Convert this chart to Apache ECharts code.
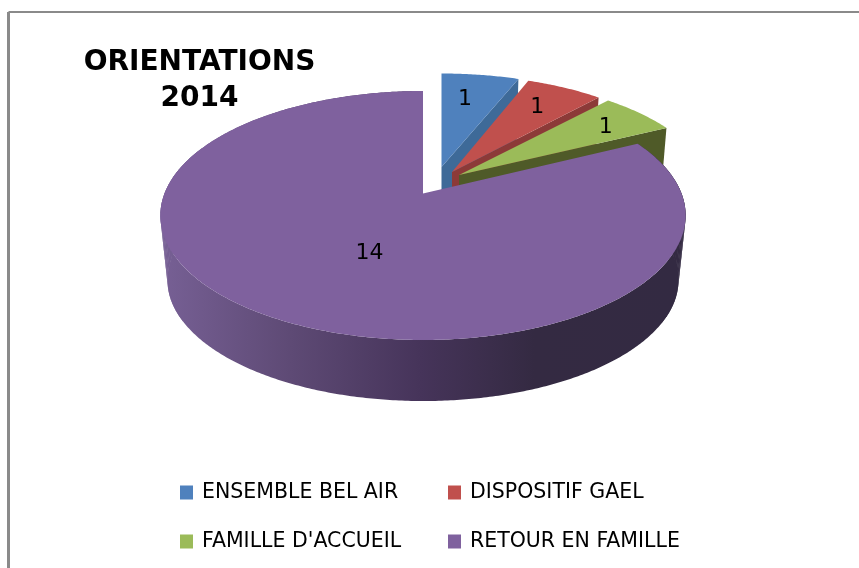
<!DOCTYPE html>
<html>
<head>
<meta charset="utf-8">
<title>Orientations 2014</title>
<script src="https://cdn.jsdelivr.net/npm/echarts@6/dist/echarts.min.js"></script>
<style>
html, body { margin: 0; padding: 0; background: #fff; }
#main { width: 859px; height: 568px; }
</style>
</head>
<body>
<div id="main"></div>
<script>
var categories = ['ENSEMBLE BEL AIR', 'DISPOSITIF GAEL', "FAMILLE D'ACCUEIL", 'RETOUR EN FAMILLE'];
var values = [1, 1, 1, 14];
var colors = ['#4f81bd', '#c0504d', '#9bbb59', '#7f619e'];
var sideColors = ['#3e6a98', '#8c3a38', '#4f5a28', '#46345a'];

// tip of each exploded slice on screen + its radii (px), label nudged by hand
var slices = [
    { x: 441.5, y: 167, rx: 248, ry: 110, labelR: 0.7, nudge: [-5, 0] },
    { x: 452, y: 172, rx: 246, ry: 114, labelR: 0.72, nudge: [1, -2] },
    { x: 459, y: 175, rx: 250, ry: 114, labelR: 0.78, nudge: [3, 2] },
    { x: 423, y: 193.5, rx: 258.5, ry: 120.6, labelR: 0.5, nudge: [20, 4] }
];
var persp = 0.1767;  // front of the pie is nearer than the back
var depth = 65;
var bottomScale = 0.973;

var total = values.reduce(function (a, b) { return a + b; }, 0);

function sliceAngles(idx) {
    var before = 0;
    for (var i = 0; i < idx; i++) before += values[i];
    return [before / total * 2 * Math.PI, (before + values[idx]) / total * 2 * Math.PI];
}

// t = clockwise from 12 o'clock, r = 0..1
function project(s, t, r, low) {
    var X = Math.sin(t) * r, Y = Math.cos(t) * r;
    var d = 1 + persp * Y;
    var k = low ? bottomScale : 1;
    return [s.x + s.rx * k * X / d, s.y + (low ? depth : 0) - s.ry * k * Y / d];
}

function arc(s, t0, t1, low) {
    var n = Math.max(2, Math.round((t1 - t0) / 0.01));
    var pts = [];
    for (var i = 0; i <= n; i++) pts.push(project(s, t0 + (t1 - t0) * i / n, 1, low));
    return pts;
}

var wallGradient = new echarts.graphic.LinearGradient(160, 0, 680, 0, [
    { offset: 0, color: '#776095' },
    { offset: 0.25, color: '#5e4a75' },
    { offset: 0.5, color: '#46345a' },
    { offset: 0.72, color: '#342a42' },
    { offset: 1, color: '#332a42' }
], true);

function wallQuad(s, t0, t1) {
    return {
        type: 'polygon',
        shape: { points: [project(s, t0, 1, false), project(s, t1, 1, false), project(s, t1, 1, true), project(s, t0, 1, true)] },
        style: { fill: wallGradient }
    };
}

function renderSlice(idx) {
    return function () {
        var s = slices[idx];
        var a = sliceAngles(idx);
        var kids = [];
        var tip = project(s, 0, 0, false);
        var tipLow = project(s, 0, 0, true);
        if (idx < 3) {
            // cut face on the clockwise side of the small slices
            kids.push({
                type: 'polygon',
                shape: { points: [tip, project(s, a[1], 1, false), project(s, a[1], 1, true), tipLow] },
                style: { fill: sideColors[idx] }
            });
        } else {
            var top = arc(s, a[0], a[1], false);
            var low = arc(s, a[0], a[1], true).reverse();
            kids.push({
                type: 'polygon',
                shape: { points: top.concat(low) },
                style: { fill: wallGradient }
            });
            // fill the edges left and right, where the two rims cross
            var step = 0.03;
            for (var t = 1.2; t < 2.1; t += step) kids.push(wallQuad(s, t, t + step));
            for (var u = 4.2; u < 5.1; u += step) kids.push(wallQuad(s, u, u + step));
        }
        kids.push({
            type: 'polygon',
            shape: { points: [tip].concat(arc(s, a[0], a[1], false)) },
            style: { fill: colors[idx] }
        });
        var mid = (a[0] + a[1]) / 2;
        var lp = project(s, mid, s.labelR, false);
        kids.push({
            type: 'text',
            x: lp[0] + s.nudge[0],
            y: lp[1] + s.nudge[1],
            style: {
                text: String(values[idx]),
                fill: '#000',
                font: '22px "DejaVu Sans"',
                align: 'center',
                verticalAlign: 'middle'
            }
        });
        return { type: 'group', children: kids };
    };
}

var legendText = { fontFamily: 'DejaVu Sans', fontSize: 20.5, color: '#000', padding: [0, 0, 0, 4] };

var chart = echarts.init(document.getElementById('main'));
chart.setOption({
    animation: false,
    backgroundColor: '#fff',
    title: {
        text: 'ORIENTATIONS\n2014',
        left: 194.5,
        top: 40,
        textAlign: 'center',
        textStyle: { fontFamily: 'DejaVu Sans', fontWeight: 'bold', fontSize: 28, lineHeight: 36, color: '#000' }
    },
    legend: [
        {
            orient: 'vertical', left: 175, top: 477, itemGap: 28, itemWidth: 13, itemHeight: 14, icon: 'rect',
            selectedMode: false,
            data: [categories[0], categories[2]],
            textStyle: legendText
        },
        {
            orient: 'vertical', left: 443, top: 477, itemGap: 28, itemWidth: 13, itemHeight: 14, icon: 'rect',
            selectedMode: false,
            data: [categories[1], categories[3]],
            textStyle: legendText
        }
    ],
    graphic: [
        { type: 'line', silent: true, shape: { x1: 8.5, y1: 12, x2: 859, y2: 12 }, style: { stroke: '#8a8a8a', lineWidth: 2 } },
        { type: 'line', silent: true, shape: { x1: 8.5, y1: 12, x2: 8.5, y2: 568 }, style: { stroke: '#8a8a8a', lineWidth: 3 } }
    ],
    series: categories.map(function (name, i) {
        return {
            type: 'custom',
            name: name,
            coordinateSystem: 'none',
            silent: true,
            z: 2 + i,
            itemStyle: { color: colors[i] },
            data: [values[i]],
            renderItem: renderSlice(i)
        };
    })
});
</script>
</body>
</html>
